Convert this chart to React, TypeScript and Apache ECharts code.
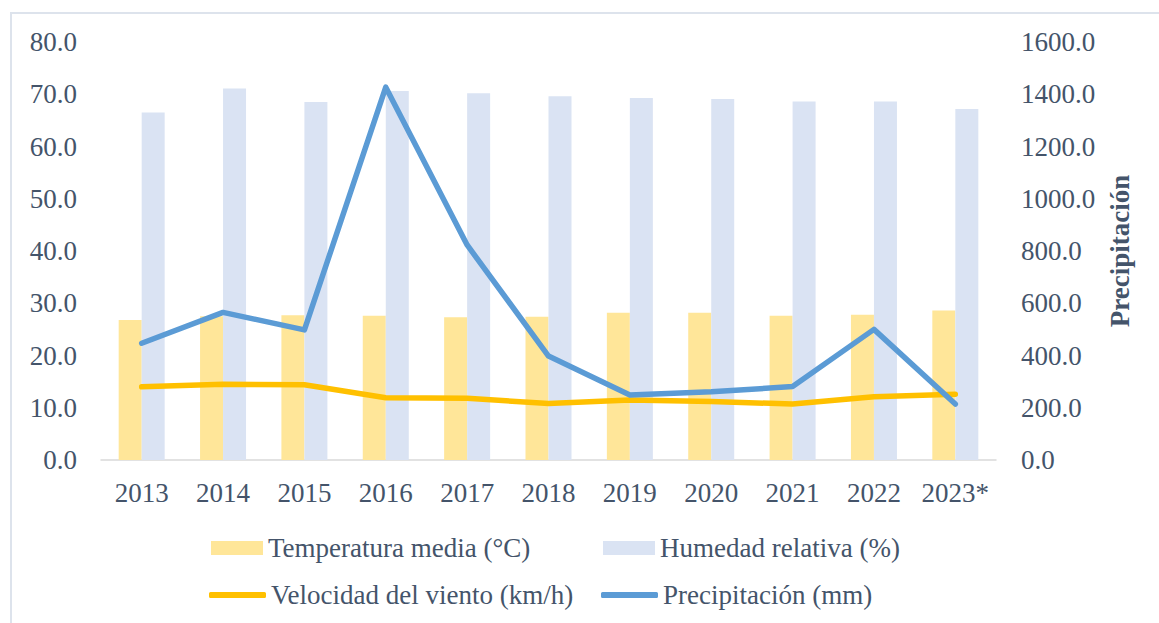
import React, { useEffect, useRef } from "react";
import * as echarts from "echarts";

const years = ["2013", "2014", "2015", "2016", "2017", "2018", "2019", "2020", "2021", "2022", "2023*"];
const temperatura = [26.8, 27.5, 27.7, 27.6, 27.3, 27.4, 28.2, 28.2, 27.6, 27.8, 28.6];
const humedad = [66.5, 71.1, 68.5, 70.6, 70.2, 69.6, 69.3, 69.1, 68.6, 68.6, 67.2];
const viento = [14.0, 14.5, 14.4, 11.9, 11.8, 10.8, 11.5, 11.2, 10.7, 12.1, 12.6];
const precipitacion = [447, 565, 498, 1427, 823, 398, 249, 261, 281, 500, 214];

const FONT = "'Liberation Serif', 'Times New Roman', serif";
const TXT = "#44546A";

export default function App() {
  const ref = useRef<HTMLDivElement>(null);
  useEffect(() => {
    if (!ref.current) return;
    const chart = echarts.init(ref.current, undefined, { renderer: "svg" });
    const fmt = (v: number) => v.toFixed(1);
    const legendText = { fontFamily: FONT, fontSize: 27, color: TXT, lineHeight: 27 };
    const mkLegend = (name: string, left: number, centerY: number, line: boolean) => ({
      orient: "horizontal",
      left,
      top: centerY - 13.5,
      padding: 0,
      itemWidth: line ? 57 : 52,
      itemHeight: line ? 6 : 14,
      itemGap: 0,
      icon: line ? "roundRect" : "rect",
      data: [name],
      textStyle: legendText,
    });
    chart.setOption({
      animation: false,
      backgroundColor: "#ffffff",
      textStyle: { fontFamily: FONT, color: TXT },
      graphic: [
        {
          type: "rect",
          shape: { x: 11, y: 13, width: 1160, height: 700 },
          style: { fill: "none", stroke: "#DDE3EC", lineWidth: 2 },
          silent: true,
        },
      ],
      grid: { left: 101, right: 163, top: 42, bottom: 163 },
      legend: [
        mkLegend("Temperatura media (°C)", 211, 548, false),
        mkLegend("Humedad relativa (%)", 603, 548, false),
        mkLegend("Velocidad del viento (km/h)", 209, 595, true),
        mkLegend("Precipitación (mm)", 601, 595, true),
      ],
      xAxis: {
        type: "category",
        data: years,
        axisTick: { show: false },
        axisLine: { lineStyle: { color: "#D9D9D9", width: 1.5 } },
        axisLabel: { fontFamily: FONT, fontSize: 27, color: TXT, margin: 19, interval: 0 },
      },
      yAxis: [
        {
          type: "value",
          min: 0,
          max: 80,
          interval: 10,
          splitLine: { show: false },
          axisLine: { show: false },
          axisTick: { show: false },
          axisLabel: { fontFamily: FONT, fontSize: 27, color: TXT, margin: 24, formatter: fmt },
        },
        {
          type: "value",
          min: 0,
          max: 1600,
          interval: 200,
          position: "right",
          splitLine: { show: false },
          axisLine: { show: false },
          axisTick: { show: false },
          axisLabel: { fontFamily: FONT, fontSize: 27, color: TXT, margin: 25, formatter: fmt },
          name: "Precipitación",
          nameLocation: "middle",
          nameRotate: 90,
          nameGap: 110,
          nameTextStyle: { fontFamily: FONT, fontSize: 27, fontWeight: "bold", color: TXT },
        },
      ],
      series: [
        {
          name: "Temperatura media (°C)",
          type: "bar",
          data: temperatura,
          barWidth: 23,
          barGap: "0%",
          itemStyle: { color: "#FFE699" },
        },
        {
          name: "Humedad relativa (%)",
          type: "bar",
          data: humedad,
          barWidth: 23,
          barGap: "0%",
          itemStyle: { color: "#DAE3F3" },
        },
        {
          name: "Velocidad del viento (km/h)",
          type: "line",
          data: viento,
          symbol: "none",
          lineStyle: { color: "#FFC000", width: 5.5, cap: "round", join: "round" },
          itemStyle: { color: "#FFC000" },
        },
        {
          name: "Precipitación (mm)",
          type: "line",
          yAxisIndex: 1,
          data: precipitacion,
          symbol: "none",
          lineStyle: { color: "#5B9BD5", width: 5.5, cap: "round", join: "round" },
          itemStyle: { color: "#5B9BD5" },
        },
      ],
    });
    return () => chart.dispose();
  }, []);
  return (
    <div
      ref={ref}
      style={{ position: "fixed", left: 0, top: 0, width: 1159, height: 623 }}
    />
  );
}
